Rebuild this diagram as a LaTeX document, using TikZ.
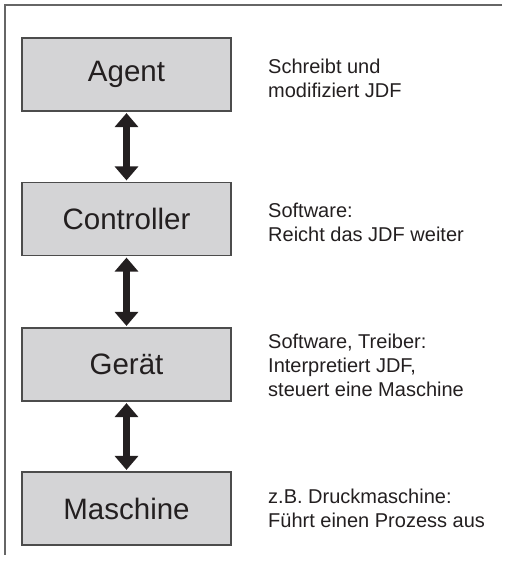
\documentclass[tikz,border=0pt]{standalone}
\usepackage{fontspec}
\setmainfont{Liberation Sans}
\usepackage{xcolor}
\usetikzlibrary{arrows.meta}
\definecolor{boxgray}{RGB}{212,212,214}
\definecolor{inkdark}{RGB}{35,31,32}

\begin{document}
\begin{tikzpicture}[x=1pt, y=-1pt,
				stage/.style={rectangle, draw=black!70, line width=1.2pt, fill=boxgray, minimum width=209pt, minimum height=73pt, text=inkdark, font=\fontsize{29.5}{34}\selectfont},
				annot/.style={anchor=west, align=left, inner sep=0pt, text=inkdark, font=\fontsize{20}{24}\selectfont},
				link/.style={{Triangle[length=14pt, width=23pt]}-{Triangle[length=14pt, width=23pt]}, line width=7pt, draw=inkdark, shorten <=1.5pt, shorten >=1.5pt}]
				\useasboundingbox (0,0) rectangle (507,564);
				% frame
				\draw[black!60, line width=1.5pt] (502,5) -- (5,5) -- (5,555);
				% stage nodes
				\node[stage] (agent) at (126.5, 74.5) {Agent};
				\node[stage] (controller) at (126.5, 219) {Controller};
				\node[stage] (geraet) at (126.5, 364.5) {Gerät};
				\node[stage] (maschine) at (126.5, 508.5) {Maschine};
				% annotation nodes
				\node[annot] (tagent) at (268, 78) {Schreibt und\\modifiziert JDF};
				\node[annot] (tcontroller) at (268, 222) {Software:\\Reicht das JDF weiter};
				\node[annot] (tgeraet) at (268, 365) {Software, Treiber:\\Interpretiert JDF,\\steuert eine Maschine};
				\node[annot] (tmaschine) at (268, 508) {z.B. Druckmaschine:\\Führt einen Prozess aus};
				% links
				\draw[link] (agent) -- (controller);
				\draw[link] (controller) -- (geraet);
				\draw[link] (geraet) -- (maschine);
\end{tikzpicture}
\end{document}
